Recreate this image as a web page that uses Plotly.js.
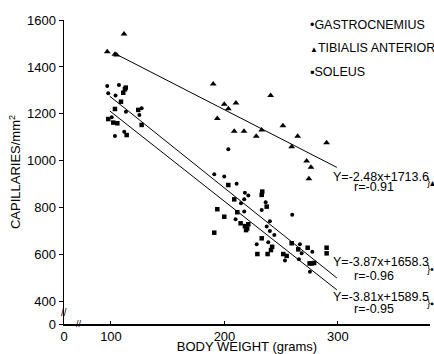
<!DOCTYPE html>
<html>
<head>
<meta charset="utf-8">
<script src="https://cdn.plot.ly/plotly-3.0.1.min.js"></script>
<style>html,body{margin:0;padding:0;background:#fff;}#chart{width:434px;height:354px;}</style>
</head>
<body>
<div id="chart"></div>
<script>
// Tibialis anterior (triangles)
const taX = [96.7,103.5,105,111.5,190.1,199.8,203.4,210.1,193.7,240.7,208.6,217.2,228,232.8,251.5,264.5,259.2,290,272.4,276.2,274.4];
const taY = [1465,1454,1451,1540,1327,1241,1222,1246,1180,1278,1126,1126,1105,1131,1149,1105,1060,1077,999,973,924];
// Gastrocnemius (dots)
const gaX = [96.7,107,97.6,104,113.2,127,125,100.6,103.5,111.7,
  203.4,191,199.8,210.7,218,221,214.5,217.4,236.3,232.8,217.4,209.8,240,237.2,240,243.9,228.4,238.6,253.3,259.7,266.5,268,277.4,265.6,275.3];
const gaY = [1319,1323,1288,1278,1209,1224,1195,1186,1106,1124,
  1049,943,933,902,864,852,819,836,824,791,784,751,743,720,701,684,645,653,575,770,645,606,613,581,528];
// Soleus (squares)
const soX = [112.3,110.8,113,108.8,103.5,124,127,97.6,102,105.6,113.8,
  203.4,208.6,233.3,232.8,237.2,193.7,199.8,211.3,214.2,218,220,219,221,191,232.8,242,241,229,238,251.8,254.8,259.2,265,273.3,275,277,279,290,290];
const soY = [1305,1290,1312,1252,1221,1217,1153,1178,1163,1160,1110,
  897,836,869,855,805,794,762,781,734,722,712,705,730,694,670,634,620,603,603,603,595,649,623,630,563,563,565,630,606];

// Printed regression equations
const fitNames = ["TA","GA","SO"];
const fitSlopes = [-2.48, -3.87, -3.81];
const fitIntercepts = [1713.6, 1658.3, 1589.5];
const fitR = ["-0.91","-0.96","-0.95"];
const fitXStart = [103.5, 99, 99];
const fitXEnd = [299, 299, 299];

// Axis ticks
const yTickVals = [305,400,600,800,1000,1200,1400,1600];
const yTickText = ["0","400","600","800","1000","1200","1400","1600"];
const xTickVals = [58.6,100,200,300];
const xTickText = ["0","100","200","300"];

const FONT = "Liberation Sans, Arial, sans-serif";
const traces = [
  {x: taX, y: taY, mode: "markers", type: "scatter", name: "TIBIALIS ANTERIOR",
   marker: {symbol: "triangle-up", size: 6, color: "#000"}},
  {x: gaX, y: gaY, mode: "markers", type: "scatter", name: "GASTROCNEMIUS",
   marker: {symbol: "circle", size: 4, color: "#000"}},
  {x: soX, y: soY, mode: "markers", type: "scatter", name: "SOLEUS",
   marker: {symbol: "square", size: 4.5, color: "#000"}}
];
for (let i = 0; i < fitNames.length; i++) {
  const xs = [fitXStart[i], fitXEnd[i]];
  traces.push({x: xs, y: xs.map(v => fitSlopes[i]*v + fitIntercepts[i]), mode: "lines", type: "scatter",
    name: fitNames[i] + " fit", line: {color: "#000", width: 1}});
}

function eqText(i) {
  const s = Math.abs(fitSlopes[i]).toFixed(2);
  return "Y=-" + s + "x+" + fitIntercepts[i].toFixed(1);
}
const eqY = [931, 569, 420];
const rY = [888, 509, 369];
const braceY = [909, 539, 394];
const braceMark = ["▴", "•", "▪"];

const ann = [];
for (let i = 0; i < 3; i++) {
  ann.push({x: 293.5, y: eqY[i], xref: "x", yref: "y", text: eqText(i), showarrow: false, xanchor: "left", yanchor: "middle", font: {family: FONT, size: 12.5, color: "#000"}});
  ann.push({x: 312, y: rY[i], xref: "x", yref: "y", text: "r=" + fitR[i], showarrow: false, xanchor: "left", yanchor: "middle", font: {family: FONT, size: 12.5, color: "#000"}});
  ann.push({x: 376.5, y: braceY[i], xref: "x", yref: "y", text: "}" + braceMark[i], showarrow: false, xanchor: "left", yanchor: "middle", font: {family: FONT, size: 10, color: "#000"}});
}
// legend text
const legY = [1579, 1481, 1378];
const legText = ["•GASTROCNEMIUS", "<span style='font-size:8px'>▲</span>TIBIALIS ANTERIOR", "▪SOLEUS"];
for (let i = 0; i < 3; i++) {
  ann.push({x: 273.5, y: legY[i], xref: "x", yref: "y", text: legText[i], showarrow: false, xanchor: "left", yanchor: "middle", font: {family: FONT, size: 12.5, color: "#000"}});
}
// axis break marks
ann.push({x: 58.6, y: 352, xref: "x", yref: "y", text: "//", showarrow: false, xanchor: "center", yanchor: "middle", font: {family: FONT, size: 10, color: "#000"}});
ann.push({x: 72, y: 307, xref: "x", yref: "y", text: "//", showarrow: false, xanchor: "center", yanchor: "middle", font: {family: FONT, size: 9, color: "#000"}});

const layout = {
  width: 434, height: 354,
  margin: {l: 64, r: 4, t: 20, b: 30},
  paper_bgcolor: "#fff", plot_bgcolor: "#fff",
  showlegend: false,
  font: {family: FONT, size: 13, color: "#000"},
  xaxis: {range: [58.6, 381.1], tickvals: xTickVals, ticktext: xTickText, showgrid: false, zeroline: false,
    showline: true, linecolor: "#000", linewidth: 1.5, ticks: "inside", ticklen: 3, tickcolor: "#000",
    tickfont: {family: FONT, size: 13, color: "#000"},
    title: {text: "BODY WEIGHT (grams)", standoff: 3, font: {family: FONT, size: 13, color: "#000"}}},
  yaxis: {range: [305, 1600], tickvals: yTickVals, ticktext: yTickText, showgrid: false, zeroline: false,
    showline: true, linecolor: "#000", linewidth: 1.5, ticks: "outside", ticklen: 4, tickcolor: "#000",
    tickfont: {family: FONT, size: 13, color: "#000"},
    title: {text: "CAPILLARIES/mm<sup>2</sup>", standoff: 3, font: {family: FONT, size: 13, color: "#000"}}},
  annotations: ann
};
Plotly.newPlot("chart", traces, layout, {displayModeBar: false, staticPlot: true});
</script>
</body>
</html>
